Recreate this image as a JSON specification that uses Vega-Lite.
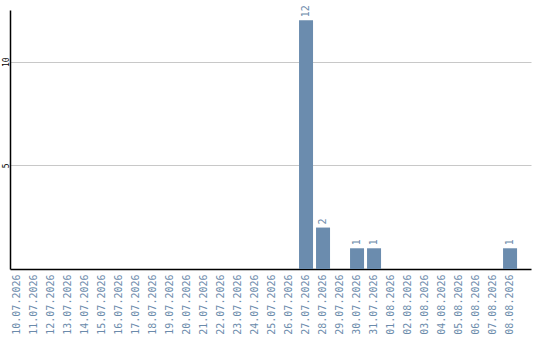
{
  "$schema": "https://vega.github.io/schema/vega-lite/v6.json",
  "autosize": "none",
  "padding": {"left": 10, "top": 10, "right": 9, "bottom": 71},
  "width": 521,
  "height": 259,
  "background": "white",
  "config": {"view": {"stroke": null}},
  "data": {
    "values": [
      {"date": "10.07.2026", "count": 0},
      {"date": "11.07.2026", "count": 0},
      {"date": "12.07.2026", "count": 0},
      {"date": "13.07.2026", "count": 0},
      {"date": "14.07.2026", "count": 0},
      {"date": "15.07.2026", "count": 0},
      {"date": "16.07.2026", "count": 0},
      {"date": "17.07.2026", "count": 0},
      {"date": "18.07.2026", "count": 0},
      {"date": "19.07.2026", "count": 0},
      {"date": "20.07.2026", "count": 0},
      {"date": "21.07.2026", "count": 0},
      {"date": "22.07.2026", "count": 0},
      {"date": "23.07.2026", "count": 0},
      {"date": "24.07.2026", "count": 0},
      {"date": "25.07.2026", "count": 0},
      {"date": "26.07.2026", "count": 0},
      {"date": "27.07.2026", "count": 12},
      {"date": "28.07.2026", "count": 2},
      {"date": "29.07.2026", "count": 0},
      {"date": "30.07.2026", "count": 1},
      {"date": "31.07.2026", "count": 1},
      {"date": "01.08.2026", "count": 0},
      {"date": "02.08.2026", "count": 0},
      {"date": "03.08.2026", "count": 0},
      {"date": "04.08.2026", "count": 0},
      {"date": "05.08.2026", "count": 0},
      {"date": "06.08.2026", "count": 0},
      {"date": "07.08.2026", "count": 0},
      {"date": "08.08.2026", "count": 1}
    ]
  },
  "encoding": {
    "x": {
      "field": "date",
      "type": "ordinal",
      "sort": null,
      "scale": {"paddingInner": 0.176, "paddingOuter": 0.41, "align": 0},
      "axis": {
        "title": null,
        "labelAngle": -90,
        "labelFont": "DejaVu Sans Mono",
        "labelFontSize": 10,
        "labelColor": "#6b8bab",
        "labelPadding": 5,
        "ticks": false,
        "domainColor": "#000000",
        "domainWidth": 1.5,
        "grid": false
      }
    },
    "y": {
      "field": "count",
      "type": "quantitative",
      "scale": {"domain": [0, 12.5], "nice": false},
      "axis": {
        "title": null,
        "values": [5, 10],
        "labelAngle": -90,
        "labelAlign": "center",
        "labelBaseline": "middle",
        "labelFont": "DejaVu Sans Mono",
        "labelFontSize": 8,
        "labelColor": "#000000",
        "labelPadding": 4,
        "ticks": false,
        "domainColor": "#000000",
        "domainWidth": 1.5,
        "gridColor": "#c8c8c8",
        "gridWidth": 1
      }
    }
  },
  "layer": [
    {
      "mark": {"type": "bar", "color": "#6b8cae"}
    },
    {
      "transform": [{"filter": "datum.count > 0"}],
      "mark": {
        "type": "text",
        "angle": -90,
        "align": "left",
        "baseline": "middle",
        "dx": 3,
        "font": "DejaVu Sans Mono",
        "fontSize": 10,
        "color": "#6b8bab"
      },
      "encoding": {"text": {"field": "count", "type": "quantitative"}}
    }
  ]
}
